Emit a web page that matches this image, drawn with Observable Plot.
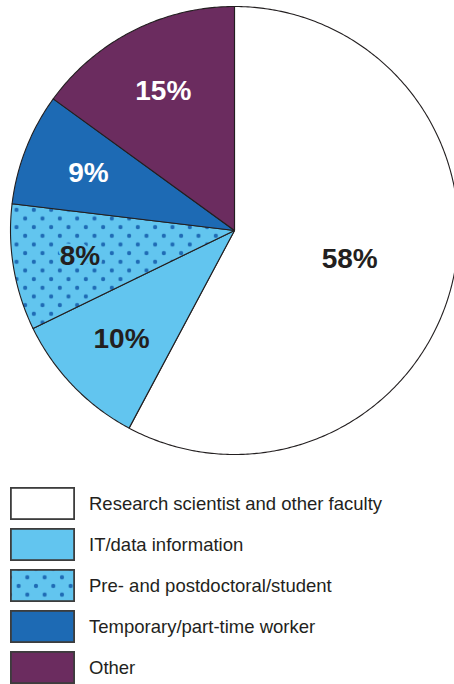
<!DOCTYPE html>
<html>
<head>
<meta charset="utf-8">
<script src="https://cdn.jsdelivr.net/npm/d3@7"></script>
<script src="https://cdn.jsdelivr.net/npm/@observablehq/plot@0.6"></script>
<style>
  html, body { margin: 0; padding: 0; background: #fff; }
  body { width: 454px; height: 684px; overflow: hidden; font-family: "Liberation Sans", Arial, sans-serif; }
  #legend { margin-top: 27px; }
  .row { display: flex; align-items: center; height: 33px; margin-bottom: 8px; }
  .row svg { margin-left: 10px; flex: none; }
  .row span { margin-left: 14px; font-size: 18.5px; color: #231f20; white-space: nowrap; }
</style>
</head>
<body>
<div id="chart"></div>
<div id="legend"></div>
<script>
const categories = [
  "Research scientist and other faculty",
  "IT/data information",
  "Pre- and postdoctoral/student",
  "Temporary/part-time worker",
  "Other"
];
// slice sizes as drawn in the picture (%)
const shares = [57.8, 10.0, 9.1, 8.1, 15.0];
// printed labels
const labels = ["58%", "10%", "8%", "9%", "15%"];

// styles
const fills = ["#ffffff", "#62c5ef", "url(#dots)", "#1d6ab4", "#6b2c5f"];
const labelLight = [false, false, false, true, true];
const dotColor = "#1f6bb5";
const ink = "#231f20";

const rows = categories.map((c, i) => ({category: c, share: shares[i], label: labels[i], light: labelLight[i], fill: fills[i]}));
const arcs = d3.pie().sort(null).value(d => d.share)(rows);

// slice outlines as polygons in unit-circle data space
const pts = [];
arcs.forEach(a => {
  const n = Math.max(2, Math.ceil((a.endAngle - a.startAngle) / 0.01));
  pts.push({category: a.data.category, x: 0, y: 0});
  for (let k = 0; k <= n; k++) {
    const t = a.startAngle + (a.endAngle - a.startAngle) * k / n;
    pts.push({category: a.data.category, x: Math.sin(t), y: Math.cos(t)});
  }
  pts.push({category: a.data.category, x: 0, y: 0});
});

const maxShare = d3.max(shares);
const labelPts = arcs.map(a => {
  const m = (a.startAngle + a.endAngle) / 2;
  const r = a.data.share === maxShare ? 0.53 : 0.7;
  return {...a.data, x: r * Math.sin(m), y: r * Math.cos(m), halo: a.data.fill.startsWith("url")};
});

const font = "Liberation Sans, Arial, sans-serif";
const chart = Plot.plot({
  width: 454,
  height: 460,
  x: {domain: [-1, 1], range: [10, 458], axis: null},
  y: {domain: [-1, 1], range: [454, 6], axis: null},
  color: {type: "ordinal", domain: categories, range: fills},
  marks: [
    Plot.line(pts, {x: "x", y: "y", z: "category", fill: "category", stroke: ink, strokeWidth: 1.1, strokeLinejoin: "round"}),
    Plot.text(labelPts.filter(d => d.halo), {x: "x", y: "y", text: "label", fill: ink, stroke: "#62c5ef", strokeWidth: 5, fontSize: 28, fontWeight: "bold", fontFamily: font}),
    Plot.text(labelPts.filter(d => !d.halo && !d.light), {x: "x", y: "y", text: "label", fill: ink, fontSize: 28, fontWeight: "bold", fontFamily: font}),
    Plot.text(labelPts.filter(d => d.light), {x: "x", y: "y", text: "label", fill: "white", fontSize: 28, fontWeight: "bold", fontFamily: font})
  ]
});

function patternDef(id, ox, oy) {
  const s = 17.33, h = s / 2, r = 2.1;
  return `<pattern id="${id}" patternUnits="userSpaceOnUse" x="${ox}" y="${oy}" width="${s}" height="${s}">
    <rect width="${s}" height="${s}" fill="#62c5ef"/>
    <circle cx="0" cy="0" r="${r}" fill="${dotColor}"/><circle cx="${s}" cy="0" r="${r}" fill="${dotColor}"/>
    <circle cx="0" cy="${s}" r="${r}" fill="${dotColor}"/><circle cx="${s}" cy="${s}" r="${r}" fill="${dotColor}"/>
    <circle cx="${h}" cy="${h}" r="${r}" fill="${dotColor}"/></pattern>`;
}
chart.insertAdjacentHTML("afterbegin", `<defs>${patternDef("dots", 16, 209.3)}</defs>`);
document.getElementById("chart").appendChild(chart);

const legend = document.getElementById("legend");
categories.forEach((c, i) => {
  const row = document.createElement("div");
  row.className = "row";
  const pid = "ldots" + i;
  const fill = fills[i].startsWith("url") ? `url(#${pid})` : fills[i];
  row.innerHTML = `<svg width="65" height="33">
      <defs>${patternDef(pid, 17.3, 8.3)}</defs>
      <rect x="0.9" y="0.9" width="63.2" height="31.2" fill="${fill}" stroke="#3d3d3d" stroke-width="1.8"/>
    </svg><span>${c}</span>`;
  legend.appendChild(row);
});
</script>
</body>
</html>
